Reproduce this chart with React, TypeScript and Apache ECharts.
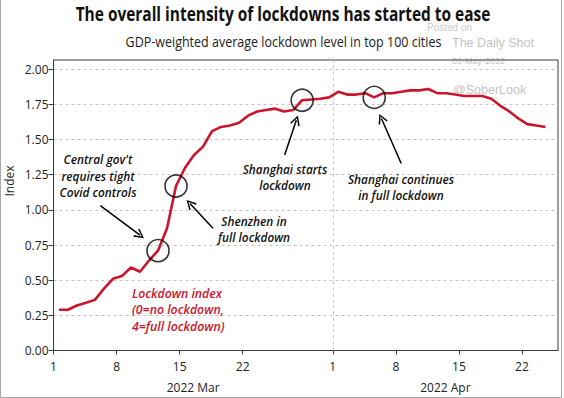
import { useEffect, useRef } from 'react';
import * as echarts from 'echarts';

// Lockdown index, daily from 1 Mar 2022 to 24 Apr 2022
const lockdownIndex = [
  0.29, 0.29, 0.32, 0.34, 0.36, 0.44, 0.51, 0.53, 0.59, 0.56,
  0.64, 0.71, 0.87, 1.17, 1.30, 1.39, 1.45, 1.56, 1.59, 1.60,
  1.62, 1.67, 1.70, 1.71, 1.72, 1.70, 1.71, 1.78, 1.785, 1.79,
  1.80, 1.84, 1.82, 1.82, 1.83, 1.80, 1.83, 1.83, 1.84, 1.85,
  1.85, 1.86, 1.83, 1.83, 1.82, 1.81, 1.81, 1.81, 1.79, 1.74,
  1.70, 1.65, 1.61, 1.60, 1.59,
];
// days since 1 Mar of the circled events
const circledDays = [11, 13, 27, 35];
// arrows: [fromDay, fromValue, toDay, toValue]
const arrows = [
  [5.2, 1.03, 9.6, 0.82],
  [17.7, 0.87, 15.15, 1.045],
  [25.66, 1.39, 26.95, 1.638],
  [38.6, 1.33, 36.4, 1.65],
];
const dayTickValues = [0, 7, 14, 21, 31, 38, 45, 52];
const dayTickLabels = ['1', '8', '15', '22', '1', '8', '15', '22'];
const monthValues = [15.5, 43.5];
const monthLabels = ['2022 Mar', '2022 Apr'];
const yTicks = [0, 0.25, 0.5, 0.75, 1, 1.25, 1.5, 1.75, 2];
const aprilFirst = 31;

const RED = '#cc142d';
const FONT = '"Open Sans", "Noto Sans", sans-serif';
const DAY_SHIFT = 0.6;

let measureCtx: CanvasRenderingContext2D | null = null;
function fitScale(text: string, font: string, target: number) {
  if (!measureCtx) measureCtx = document.createElement('canvas').getContext('2d');
  if (!measureCtx) return 1;
  measureCtx.font = font;
  const w = measureCtx.measureText(text).width;
  return w > 0 ? target / w : 1;
}

export default function App() {
  const ref = useRef<HTMLDivElement>(null);
  useEffect(() => {
    if (!ref.current) return;
    const chart = echarts.init(ref.current, null, { renderer: 'svg' });

    const titleScale = fitScale('The overall intensity of lockdowns has started to ease', `bold 19px ${FONT}`, 415);
    const subScale = fitScale('GDP-weighted average lockdown level in top 100 cities', `14px ${FONT}`, 316);
    const annFont = `italic 600 13px ${FONT}`;
    const annScale = fitScale('Covid controls', annFont, 77);
    const redScale = fitScale('(0=no lockdown,', annFont, 92);

    const lineData = lockdownIndex.map((v, i) => [i + DAY_SHIFT, v]);
    const circleData = circledDays.map((d) => [d + DAY_SHIFT, lockdownIndex[d]]);
    const chevron = 'path://M5,0 L10,9 L8.6,9.7 L5,2.8 L1.4,9.7 L0,9 Z';

    const annText = (x: number, y: number, text: string, color: string, scale: number, align = 'center') => ({
      type: 'text',
      x,
      y,
      scaleX: scale,
      z: 10,
      silent: true,
      style: {
        text,
        fill: color,
        fontSize: 13,
        fontWeight: 600,
        fontStyle: 'italic',
        fontFamily: FONT,
        lineHeight: 16.5,
        align,
        verticalAlign: 'middle',
        textAlign: align,
        textVerticalAlign: 'middle',
      },
    });

    chart.setOption({
      animation: false,
      backgroundColor: '#ffffff',
      grid: {
        left: 53.5,
        right: 6,
        top: 60,
        bottom: 47.5,
        show: true,
        borderColor: '#3a3a3a',
        borderWidth: 1,
        containLabel: false,
      },
      xAxis: [
        {
          type: 'value',
          min: 0,
          max: 56,
          position: 'bottom',
          axisLine: { show: true, lineStyle: { color: '#3a3a3a', width: 1 } },
          axisTick: { show: true, length: 4, customValues: dayTickValues, lineStyle: { color: '#3a3a3a' } },
          axisLabel: {
            customValues: dayTickValues,
            margin: 10,
            color: '#222',
            fontSize: 12,
            fontFamily: FONT,
            formatter: (v: number) => dayTickLabels[dayTickValues.indexOf(Math.round(v))] ?? '',
          },
          splitLine: { show: false },
        },
        {
          type: 'value',
          min: 0,
          max: 56,
          position: 'bottom',
          axisLine: { show: false },
          axisTick: { show: false },
          axisLabel: {
            customValues: monthValues,
            margin: 31,
            color: '#222',
            fontSize: 12,
            fontFamily: FONT,
            formatter: (v: number) => monthLabels[monthValues.indexOf(v)] ?? '',
          },
          splitLine: { show: false },
        },
      ],
      yAxis: {
        type: 'value',
        min: 0,
        max: 2.066,
        axisLine: { show: true, lineStyle: { color: '#3a3a3a', width: 1 } },
        axisTick: { show: true, length: 5, customValues: yTicks, lineStyle: { color: '#3a3a3a' } },
        axisLabel: {
          customValues: yTicks,
          margin: 5,
          color: '#222',
          fontSize: 12,
          fontFamily: FONT,
          formatter: (v: number) => v.toFixed(2),
        },
        splitLine: { show: true, lineStyle: { color: '#c4c4c4', type: [3, 3], width: 1 } },
      },
      series: [
        {
          type: 'line',
          data: lineData,
          showSymbol: false,
          symbol: 'none',
          lineStyle: { color: RED, width: 2.6 },
          itemStyle: { color: RED },
          z: 3,
          silent: true,
          markLine: {
            silent: true,
            symbol: ['none', 'none'],
            label: { show: false },
            lineStyle: { color: '#c4c4c4', type: [3, 3], width: 1 },
            data: [{ xAxis: aprilFirst }],
            z: 1,
          },
        },
        {
          type: 'scatter',
          data: circleData,
          symbol: 'circle',
          symbolSize: 22,
          itemStyle: { color: 'rgba(0,0,0,0)', borderColor: '#000', borderWidth: 1.6 },
          z: 5,
          silent: true,
          markLine: {
            silent: true,
            symbol: ['none', chevron],
            symbolSize: [10, 10],
            label: { show: false },
            lineStyle: { color: '#000', type: 'solid', width: 1.5 },
            data: arrows.map((a) => [{ coord: [a[0], a[1]] }, { coord: [a[2], a[3]] }]),
          },
        },
      ],
      graphic: [
        {
          type: 'polyline',
          silent: true,
          shape: { points: [[0.5, 0], [0.5, 397.5], [561.5, 397.5], [561.5, 0]] },
          style: { stroke: '#a8a8a8', lineWidth: 1, fill: 'none' },
        },
        {
          type: 'text', x: 283, y: 13, scaleX: titleScale, silent: true,
          style: { text: 'The overall intensity of lockdowns has started to ease', fill: '#111', fontSize: 19, fontWeight: 'bold', fontFamily: FONT, align: 'center', verticalAlign: 'middle', textAlign: 'center', textVerticalAlign: 'middle' },
        },
        {
          type: 'text', x: 283.5, y: 42, scaleX: subScale, silent: true,
          style: { text: 'GDP-weighted average lockdown level in top 100 cities', fill: '#222', fontSize: 14, fontFamily: FONT, align: 'center', verticalAlign: 'middle', textAlign: 'center', textVerticalAlign: 'middle' },
        },
        { type: 'text', x: 427, y: 27, silent: true, z: -1, style: { text: 'Posted on', fill: '#cccccc', fontSize: 10, fontFamily: '"Liberation Sans", Arial, sans-serif', verticalAlign: 'middle', textVerticalAlign: 'middle' } },
        { type: 'text', x: 452, y: 43, silent: true, z: -1, style: { text: 'The Daily Shot', fill: '#c4c4c4', fontSize: 12.5, fontFamily: '"Liberation Sans", Arial, sans-serif', verticalAlign: 'middle', textVerticalAlign: 'middle' } },
        { type: 'text', x: 452, y: 61, silent: true, z: -1, style: { text: '02-May-2022', fill: '#c4c4c4', fontSize: 9, fontFamily: '"Liberation Sans", Arial, sans-serif', verticalAlign: 'middle', textVerticalAlign: 'middle' } },
        { type: 'text', x: 453, y: 90, silent: true, z: -1, style: { text: '@SoberLook', fill: '#c4c4c4', fontSize: 12.5, fontFamily: '"Liberation Sans", Arial, sans-serif', verticalAlign: 'middle', textVerticalAlign: 'middle' } },
        {
          type: 'text', x: 9, y: 181, rotation: Math.PI / 2, silent: true,
          style: { text: 'Index', fill: '#222', fontSize: 12, fontFamily: FONT, align: 'center', verticalAlign: 'middle', textAlign: 'center', textVerticalAlign: 'middle' },
        },
        annText(98, 176, "Central gov't\nrequires tight\nCovid controls", '#111', annScale),
        annText(254, 229.5, 'Shenzhen in\nfull lockdown', '#111', annScale),
        annText(285, 177.5, 'Shanghai starts\nlockdown', '#111', annScale),
        annText(401, 187.5, 'Shanghai continues\nin full lockdown', '#111', annScale),
        annText(132, 309, 'Lockdown index\n(0=no lockdown,\n4=full lockdown)', RED, redScale, 'left'),
      ],
    });
    return () => chart.dispose();
  }, []);
  return (
    <div
      ref={ref}
      style={{ position: 'absolute', left: 0, top: 0, width: 564, height: 398, background: '#fff' }}
    />
  );
}
